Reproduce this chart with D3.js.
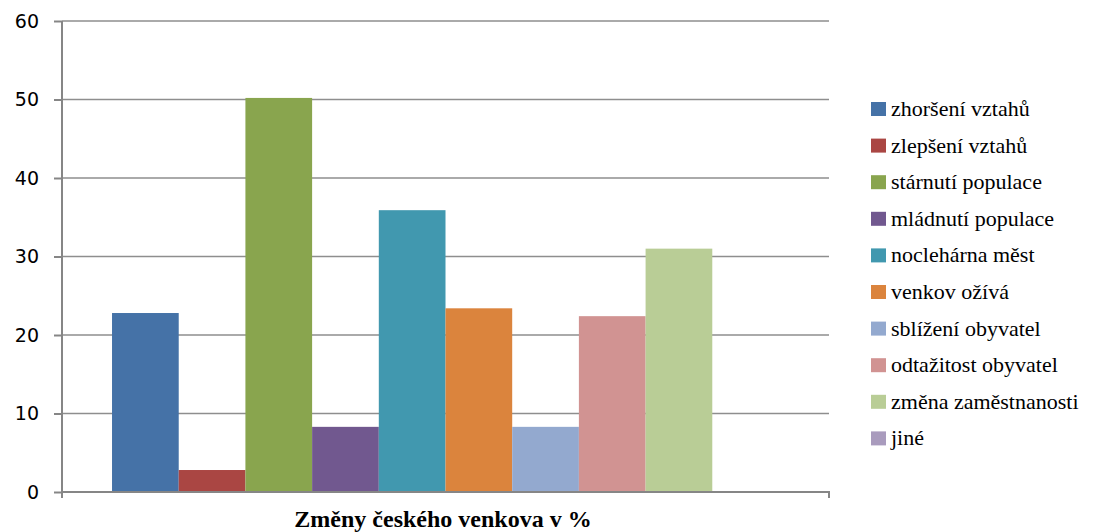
<!DOCTYPE html>
<html>
<head>
<meta charset="utf-8">
<script src="https://cdn.jsdelivr.net/npm/d3@7"></script>
</head>
<body style="margin:0">
<script>
  // data
  const series = ['zhoršení vztahů', 'zlepšení vztahů', 'stárnutí populace', 'mládnutí populace',
    'noclehárna měst', 'venkov ožívá', 'sblížení obyvatel', 'odtažitost obyvatel',
    'změna zaměstnanosti', 'jiné'];
  const values = [22.8, 2.8, 50.2, 8.3, 35.9, 23.4, 8.3, 22.4, 31.0, 0];
  const colors = ['#4572A7', '#AA4643', '#89A54E', '#71588F', '#4198AF',
    '#DB843D', '#93A9CF', '#D19392', '#B9CD96', '#A99BBD'];
  const yTicks = [0, 10, 20, 30, 40, 50, 60];
  const title = 'Změny českého venkova v %';

  const SERIF = '"Liberation Serif", Tinos, Times, "Times New Roman", Georgia';
  const W = 1093, H = 532;
  const plot = { left: 62, right: 829, top: 21, bottom: 492 };

  const svg = d3.select('body').append('svg')
    .attr('width', W).attr('height', H)
    .style('display', 'block');

  const y = d3.scaleLinear().domain([0, 60]).range([plot.bottom, plot.top]);
  // one category, ten series; excel-style gap width 150%
  const x = d3.scaleBand().domain(series).range([plot.left, plot.right])
    .paddingInner(0).paddingOuter(0.75);

  // gridlines
  svg.append('g').selectAll('line').data(yTicks.filter(d => d > 0)).join('line')
    .attr('x1', plot.left).attr('x2', plot.right)
    .attr('y1', d => y(d)).attr('y2', d => y(d))
    .attr('stroke', '#8e8e8e').attr('stroke-width', 1.5);

  // bars
  svg.append('g').selectAll('rect').data(series).join('rect')
    .attr('x', d => x(d))
    .attr('width', x.bandwidth())
    .attr('y', (d, i) => y(values[i]))
    .attr('height', (d, i) => y(0) - y(values[i]))
    .attr('fill', (d, i) => colors[i]);

  // y axis
  const yAxis = d3.axisLeft(y).tickValues(yTicks).tickSize(8).tickPadding(15);
  const gy = svg.append('g').attr('transform', `translate(${plot.left},0)`).call(yAxis);
  gy.attr('font-family', null);
  gy.select('.domain').attr('stroke', '#868686').attr('stroke-width', 2)
    .attr('d', `M0,${plot.top}V${plot.bottom + 6}`);
  gy.selectAll('.tick line').attr('stroke', '#868686').attr('stroke-width', 2);
  gy.selectAll('.tick text').style('font-family', '"DejaVu Sans"')
    .attr('font-size', 19).attr('fill', '#000');

  // x axis line with end ticks
  svg.append('path')
    .attr('d', `M${plot.left},${plot.bottom}H${plot.right}V${plot.bottom + 6}`)
    .attr('fill', 'none').attr('stroke', '#868686').attr('stroke-width', 2);

  // title under the axis
  svg.append('text')
    .attr('x', 443).attr('y', 527)
    .attr('text-anchor', 'middle')
    .style('font-family', SERIF, 'important')
    .style('font-weight', 'bold')
    .style('font-size', '24px')
    .text(title);

  // legend
  const row = svg.selectAll('.leg').data(series).join('g').attr('class', 'leg')
    .attr('transform', (d, i) => `translate(871,${109 + i * 36.6})`);
  row.append('rect').attr('x', 0).attr('y', -7).attr('width', 15).attr('height', 14)
    .attr('fill', (d, i) => colors[i]);
  row.append('text').attr('x', 20).attr('y', 7)
    .style('font-family', SERIF, 'important')
    .style('font-size', '22px').attr('fill', '#000')
    .text(d => d);
</script>
</body>
</html>
